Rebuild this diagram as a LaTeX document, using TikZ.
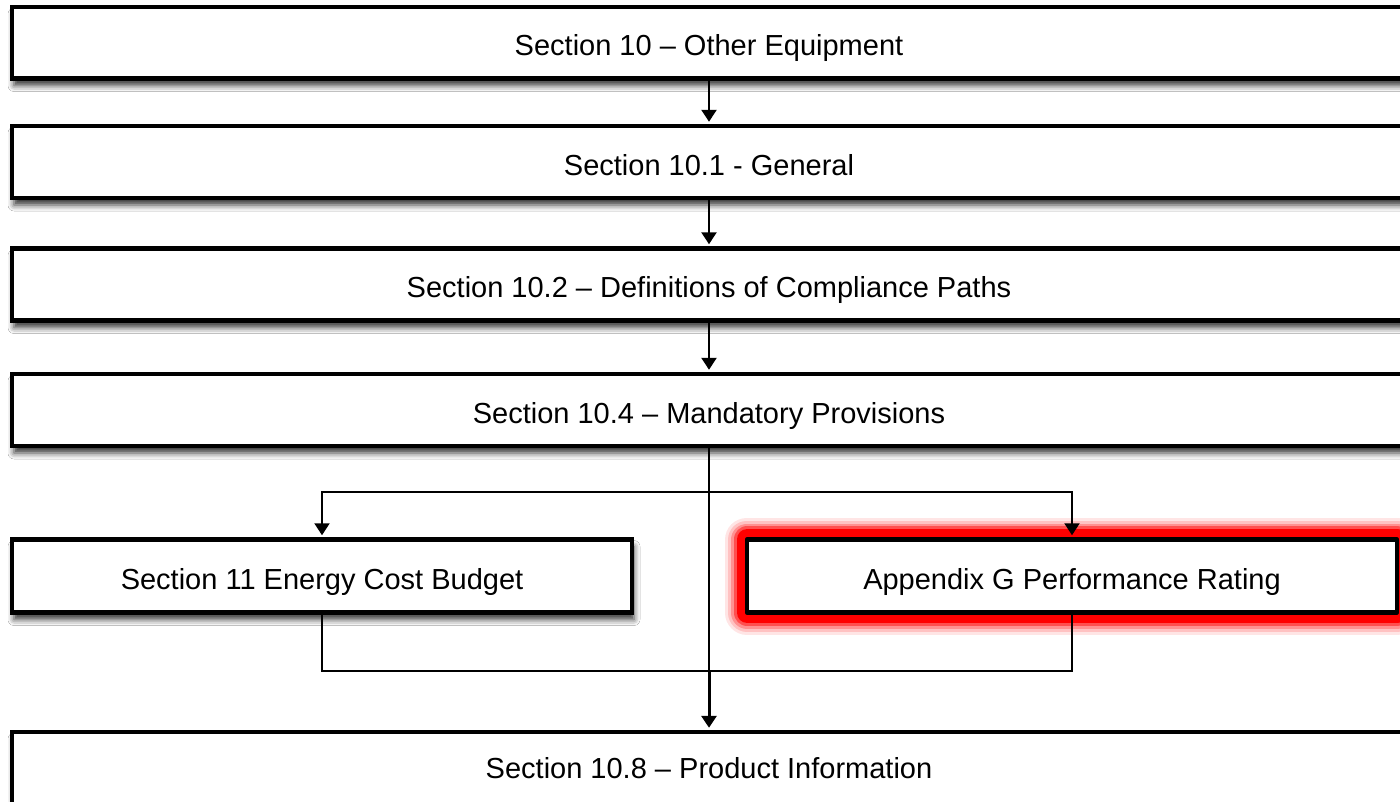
\documentclass[tikz,border=0pt]{standalone}
\usepackage{fontspec}
\setmainfont{Liberation Sans}
\usetikzlibrary{arrows.meta,shadows.blur}
\begin{document}
\begin{tikzpicture}[x=1pt,y=-1pt,
  box/.style={draw=black,line width=4.5pt,fill=white,inner sep=0pt,text height=26pt,text depth=0pt,
    font=\fontsize{29}{34}\selectfont,
    blur shadow={shadow xshift=2pt,shadow yshift=-7pt,shadow blur radius=6pt,shadow opacity=80}},
  glowbox/.style={draw=black,line width=4.5pt,fill=white,inner sep=0pt,text height=26pt,text depth=0pt,
    font=\fontsize{29}{34}\selectfont,line join=round,
    preaction={draw=red,opacity=0.10,line width=44pt,line join=round},
    preaction={draw=red,opacity=0.15,line width=38pt,line join=round},
    preaction={draw=red,opacity=0.25,line width=32pt,line join=round},
    preaction={draw=red,opacity=0.45,line width=27pt,line join=round},
    preaction={draw=red,opacity=1,line width=21pt,line join=round}},
  arr/.style={line width=2.5pt,-{Triangle[length=12pt,width=15pt]},shorten >=2pt},
  link/.style={line width=2pt}]
\useasboundingbox (0,0) rectangle (1400,801);
\fill[white] (0,0) rectangle (1400,801);

\node[box,minimum width=1394pt,minimum height=71.5pt] (b1) at (709,42.75) {Section 10 -- Other Equipment};
\node[box,minimum width=1394pt,minimum height=72pt] (b2) at (709,162) {Section 10.1 - General};
\node[box,minimum width=1394pt,minimum height=72pt] (b3) at (709,284.5) {Section 10.2 -- Definitions of Compliance Paths};
\node[box,minimum width=1394pt,minimum height=72pt] (b4) at (709,410) {Section 10.4 -- Mandatory Provisions};
\node[box,minimum width=620pt,minimum height=73pt] (lb) at (322,576) {Section 11 Energy Cost Budget};
\node[glowbox,minimum width=650pt,minimum height=73pt] (rb) at (1072,576) {Appendix G Performance Rating};
\node[box,text height=21pt,minimum width=1394pt,minimum height=72pt] (b5) at (709,768) {Section 10.8 -- Product Information};

\coordinate (split) at (709,492);
\coordinate (merge) at (709,671);

\draw[arr] (b1.south) -- (b2.north);
\draw[arr] (b2.south) -- (b3.north);
\draw[arr] (b3.south) -- (b4.north);
\draw[link] (b4.south) -- (merge);
\draw[arr,line width=2pt] (split) -| (lb.north);
\draw[arr,line width=2pt] (split) -| (rb.north);
\draw[link] (lb.south) |- (merge);
\draw[link] (rb.south) |- (merge);
\draw[arr,line width=3pt] (merge) -- (b5.north);
\end{tikzpicture}
\end{document}
